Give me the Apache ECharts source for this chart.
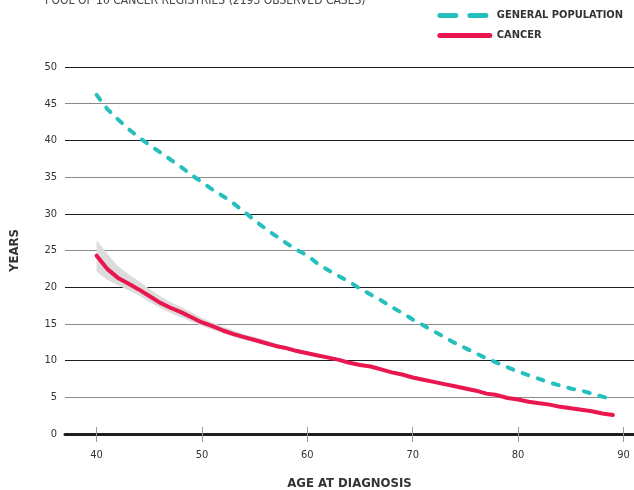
<!DOCTYPE html>
<html>
<head>
<meta charset="utf-8">
<script src="https://cdn.jsdelivr.net/npm/echarts@6/dist/echarts.min.js"></script>
<style>
  html, body { margin: 0; padding: 0; background: #fff; }
  #chart { width: 634px; height: 490px; }
</style>
</head>
<body>
<div id="chart"></div>
<script>
// Remaining life expectancy (years) by age at diagnosis
const ages = [40,41,42,43,44,45,46,47,48,49,50,51,52,53,54,55,56,57,58,59,60,61,62,63,64,65,66,67,68,69,70,71,72,73,74,75,76,77,78,79,80,81,82,83,84,85,86,87,88,89];

const generalPopulation = [46.2,44.3,42.9,41.6,40.4,39.4,38.4,37.4,36.4,35.3,34.3,33.3,32.4,31.4,30.3,29.1,28.0,27.0,26.0,25.1,24.3,23.2,22.3,21.5,20.7,19.8,19.0,18.2,17.3,16.5,15.6,14.8,14.0,13.2,12.4,11.7,11.0,10.3,9.7,9.1,8.5,8.0,7.5,7.0,6.6,6.2,5.9,5.5,5.1,4.7];

const cancer = [24.3,22.5,21.3,20.5,19.7,18.8,17.9,17.2,16.6,15.9,15.2,14.7,14.1,13.6,13.2,12.8,12.4,12.0,11.7,11.3,11.0,10.7,10.4,10.1,9.7,9.4,9.2,8.8,8.4,8.1,7.7,7.4,7.1,6.8,6.5,6.2,5.9,5.5,5.3,4.9,4.7,4.4,4.2,4.0,3.7,3.5,3.3,3.1,2.8,2.6];

// Confidence band around the cancer curve (ages 40-60)
const bandAges  = [40,41,42,43,44,45,46,47,48,49,50,51,52,53,54,55,56,57,58,59,60];
const bandLower = [22.1,21.0,20.3,19.6,18.9,18.0,17.2,16.5,15.9,15.3,14.7,14.2,13.7,13.2,12.8,12.5,12.1,11.7,11.4,11.1,10.8];
const bandUpper = [26.4,24.6,22.9,21.8,20.8,19.8,18.8,18.0,17.3,16.6,15.8,15.2,14.6,14.1,13.6,13.2,12.8,12.3,12.0,11.6,11.2];

const xTicks = [40,50,60,70,80,90];

const FONT = "'Liberation Sans Narrow', 'DejaVu Sans Condensed', 'Noto Sans', sans-serif";

const pairs = (xs, ys) => xs.map((x, i) => [x, ys[i]]);
const bandRows = bandAges.map((a, i) => [a, bandLower[i], bandUpper[i]]);

const chart = echarts.init(document.getElementById('chart'), null, { renderer: 'canvas' });

const baseX = { type: 'value', min: 37, max: 91, gridIndex: 0 };

chart.setOption({
  animation: false,
  textStyle: { fontFamily: FONT },
  title: {
    text: 'POOL OF 10 CANCER REGISTRIES (2193 OBSERVED CASES)',
    left: 40,
    top: -10,
    textStyle: { fontFamily: FONT, fontSize: 12, fontWeight: 'normal', color: '#444' }
  },
  legend: {
    orient: 'vertical',
    right: 6,
    top: 5,
    itemWidth: 50,
    itemHeight: 10,
    itemGap: 9,
    data: [
      { name: 'GENERAL POPULATION', lineStyle: { type: [16, 14], width: 5, cap: 'round' } },
      { name: 'CANCER', lineStyle: { width: 5, cap: 'round' } }
    ],
    itemStyle: { opacity: 0 },
    textStyle: { fontFamily: FONT, fontSize: 11, fontWeight: 'bold', color: '#333', padding: [0, 0, 0, 2] }
  },
  grid: { left: 65, right: 0, top: 67, bottom: 56, containLabel: false, outerBoundsMode: 'none' },
  xAxis: [
    Object.assign({}, baseX, {
      name: 'AGE AT DIAGNOSIS',
      nameLocation: 'middle',
      nameGap: 43,
      nameTextStyle: { fontFamily: FONT, fontSize: 13, fontWeight: 'bold', color: '#333' },
      axisLine: { show: true, onZero: false, lineStyle: { color: '#1e1e1e', width: 3 } },
      axisTick: { show: true, inside: false, length: 8, customValues: xTicks, lineStyle: { color: '#999', width: 1 } },
      axisLabel: { show: true, customValues: xTicks, margin: 16, fontSize: 11, color: '#333', fontFamily: FONT },
      splitLine: { show: false }
    }),
    Object.assign({}, baseX, {
      position: 'bottom',
      axisLine: { show: false },
      axisTick: { show: true, inside: true, length: 7, customValues: xTicks, lineStyle: { color: '#999', width: 1 } },
      axisLabel: { show: false },
      splitLine: { show: false }
    })
  ],
  yAxis: {
    type: 'value',
    min: 0,
    max: 50,
    interval: 5,
    name: 'YEARS',
    nameLocation: 'middle',
    nameGap: 44,
    nameRotate: 90,
    nameTextStyle: { fontFamily: FONT, fontSize: 13, fontWeight: 'bold', color: '#333' },
    axisLine: { show: false },
    axisTick: { show: false },
    axisLabel: { margin: 8, fontSize: 11, color: '#333', fontFamily: FONT },
    splitLine: { show: true, lineStyle: { color: ['#1e1e1e', '#8a8a8a'], width: 1.2 } }
  },
  series: [
    {
      // grey confidence band: one polygon through the upper edge and back along the lower edge
      name: 'band',
      type: 'custom',
      data: bandRows,
      silent: true,
      z: 1,
      renderItem: function (params, api) {
        if (params.dataIndex !== 0) return null;
        const upper = bandRows.map(r => api.coord([r[0], r[2]]));
        const lower = bandRows.map(r => api.coord([r[0], r[1]])).reverse();
        return {
          type: 'polygon',
          shape: { points: upper.concat(lower) },
          style: { fill: '#dcdcdc' }
        };
      }
    },
    {
      name: 'GENERAL POPULATION',
      type: 'line',
      data: pairs(ages, generalPopulation),
      symbol: 'none',
      itemStyle: { color: '#25bfbd' },
      lineStyle: { color: '#25bfbd', width: 4, type: [6, 10], cap: 'round' },
      z: 3
    },
    {
      name: 'CANCER',
      type: 'line',
      data: pairs(ages, cancer),
      symbol: 'none',
      itemStyle: { color: '#ea1650' },
      lineStyle: { color: '#ea1650', width: 4, cap: 'round' },
      z: 4
    }
  ]
});
</script>
</body>
</html>
